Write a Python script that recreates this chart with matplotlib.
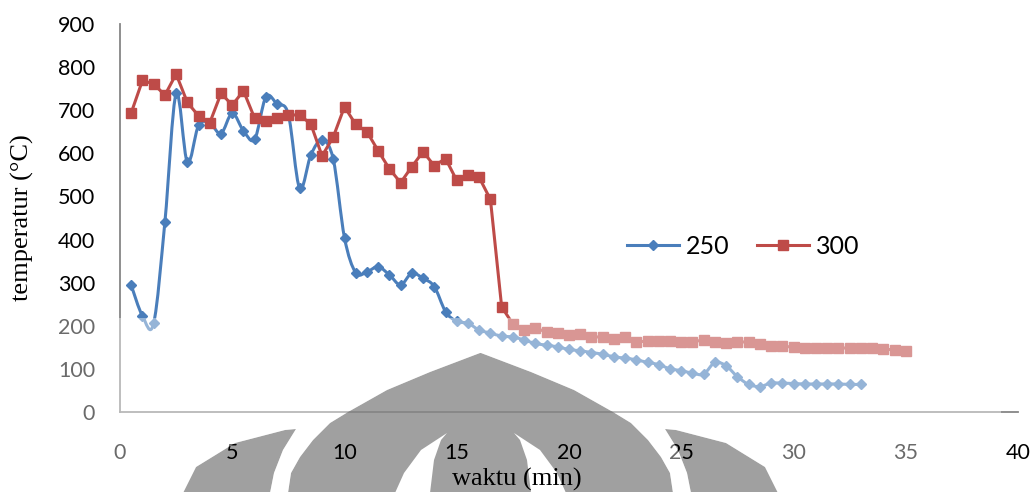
import numpy as np
import matplotlib.pyplot as plt
from matplotlib.path import Path
from matplotlib.patches import PathPatch, Polygon
from matplotlib.lines import Line2D

# temperature readings every half minute
t_250 = np.arange(0.5, 33.01, 0.5)
temp_250 = [294, 223, 206, 441, 739, 579, 665, 670, 646, 693,
            652, 633, 731, 714, 690, 519, 596, 631, 586, 404,
            323, 325, 337, 318, 295, 322, 310, 291, 233, 210,
            206, 190, 183, 176, 174, 167, 159, 155, 151, 145,
            142, 138, 134, 128, 125, 121, 115, 110, 100, 96,
            90, 88, 115, 107, 82, 64, 59, 67, 67, 66,
            65, 65, 65, 65, 64, 64]

t_300 = np.arange(0.5, 35.01, 0.5)
temp_300 = [694, 769, 761, 735, 784, 718, 687, 671, 739, 712,
            745, 681, 676, 683, 689, 689, 668, 594, 638, 708,
            667, 650, 606, 564, 532, 569, 604, 571, 588, 537,
            550, 544, 493, 244, 204, 191, 194, 186, 184, 179,
            182, 173, 175, 169, 175, 162, 165, 165, 164, 163,
            163, 167, 162, 159, 163, 162, 157, 154, 152, 151,
            149, 149, 149, 149, 148, 148, 148, 146, 144, 142]

series_labels = ["250", "300"]
x_ticks = list(range(0, 41, 5))
y_ticks = list(range(0, 901, 100))

BLUE = "#4A7EBB"
RED = "#BE4B48"
AXIS = "#868686"
W, H = 1035, 492


def px(x, y):
    return (x / W, 1 - y / H)


def smooth_path(x, y):
    # cubic bezier through every point, tangents from neighbouring points
    p = np.column_stack([x, y]).astype(float)
    ext = np.vstack([p[0], p, p[-1]])
    verts = [p[0]]
    codes = [Path.MOVETO]
    for i in range(len(p) - 1):
        c1 = ext[i + 1] + (ext[i + 2] - ext[i]) / 6
        c2 = ext[i + 2] - (ext[i + 3] - ext[i + 1]) / 6
        verts += [c1, c2, ext[i + 2]]
        codes += [Path.CURVE4] * 3
    return Path(verts, codes)


def signed_area(pts):
    a = np.asarray(pts)
    return 0.5 * np.sum(a[:, 0] * np.roll(a[:, 1], -1) - np.roll(a[:, 0], -1) * a[:, 1])


plt.rcParams['font.family'] = ['Lato', 'DejaVu Sans']

fig = plt.figure(figsize=(W / 100, H / 100), dpi=100)
l, b = px(120, 412)
r, t = px(1018, 24)
ax = fig.add_axes([l, b, r - l, t - b])
ax.set_facecolor("none")

# blue series drawn as a smoothed curve, red with straight segments
ax.add_patch(PathPatch(smooth_path(t_250, temp_250), facecolor="none",
                       edgecolor=BLUE, lw=2.2, capstyle="round", joinstyle="round"))
ax.plot(t_250, temp_250, ls="none", marker="D", ms=5.5, color=BLUE)
ax.plot(t_300, temp_300, color=RED, lw=2.2, marker="s", ms=7.5,
        solid_joinstyle="round")

ax.set_xlim(0, 40)
ax.set_ylim(0, 900)
ax.set_xticks(x_ticks)
ax.set_yticks(y_ticks)
ax.tick_params(axis="both", length=0, labelsize=15.5, colors="black")
ax.tick_params(axis="y", pad=18)
ax.tick_params(axis="x", pad=22)
for side in ("top", "right"):
    ax.spines[side].set_visible(False)
for side in ("left", "bottom"):
    ax.spines[side].set_color(AXIS)
    ax.spines[side].set_linewidth(1.3)

handles = [Line2D([], [], color=BLUE, lw=2.2, marker="D", ms=5.5),
           Line2D([], [], color=RED, lw=2.2, marker="s", ms=7.5)]
ax.legend(handles, series_labels, loc="center", ncol=2, frameon=False,
          fontsize=18, handlelength=2.1, handletextpad=0.25, columnspacing=1.1,
          bbox_to_anchor=px(743, 246), bbox_transform=fig.transFigure)

serif = ["Liberation Serif", "DejaVu Serif"]
fig.text(*px(22, 218), "temperatur (\u00b0C)", rotation=90, ha="center", va="center",
         fontsize=19, family=serif)
fig.text(*px(517, 486), "waktu (min)", ha="center", va="baseline",
         fontsize=19, family=serif)

# grey emblem in the lower half
mountain_left = [(480, 353), (430, 372), (387, 390), (348, 412), (330, 423),
                 (313, 440), (300, 457), (291, 473), (288, 493)]
mountain = mountain_left + [(961 - x, y) for x, y in reversed(mountain_left)]
wing_left = [(285, 430), (235, 443), (196, 467), (183, 493),
             (270, 493), (274, 473), (283, 450), (296, 429)]
wing_right = [(961 - x, y) for x, y in wing_left]
slit_left = [(447, 433), (421, 450), (404, 473), (395, 493),
             (430, 493), (434, 460), (441, 440)]
slit_right = [(961 - x, y) for x, y in slit_left]

grey_shapes = [mountain, wing_left, wing_right]
for shape in grey_shapes:
    fig.add_artist(Polygon([px(*p) for p in shape], closed=True, facecolor="#a0a0a0",
                           edgecolor="none", transform=fig.transFigure, zorder=-2))
for shape in (slit_left, slit_right):
    fig.add_artist(Polygon([px(*p) for p in shape], closed=True, facecolor="white",
                           edgecolor="none", transform=fig.transFigure, zorder=-1))

# pale veil over the lower band, with the emblem left untouched
rect = [(0, 318), (0, 493), (1001, 493), (1001, 318)]
paths = []
ref = np.sign(signed_area(rect))
paths.append(Path([px(*p) for p in rect] + [px(*rect[0])], closed=True))
for shape in grey_shapes:
    pts = shape if np.sign(signed_area(shape)) != ref else shape[::-1]
    paths.append(Path([px(*p) for p in pts] + [px(*pts[0])], closed=True))
veil = PathPatch(Path.make_compound_path(*paths), facecolor="white", edgecolor="none",
                 alpha=0.42, transform=fig.transFigure, zorder=10)
fig.add_artist(veil)

fig.savefig("out.png", dpi=100)
